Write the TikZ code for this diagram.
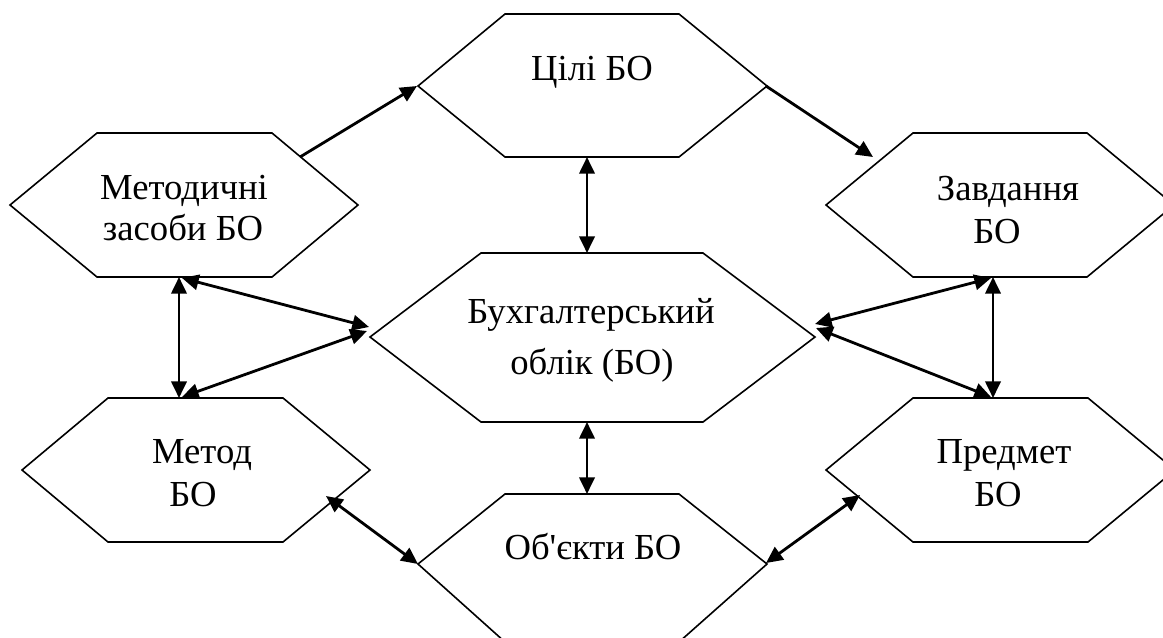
\documentclass[tikz,border=0pt]{standalone}
\usepackage{fontspec}
\newfontfamily\tnr{Liberation Serif}
\usetikzlibrary{arrows.meta}
\begin{document}
\begin{tikzpicture}[x=0.75pt,y=-0.75pt,
  hex/.style={line width=1.2pt, line join=miter},
  conn/.style={line width=2.1pt, >={Triangle[length=12.5pt,width=11.5pt]}},
  lbl/.style={inner sep=0pt, anchor=base, font=\tnr\fontsize{27.5}{33}\selectfont}]
\useasboundingbox (0,0) rectangle (1163,637);
\clip (0,0) rectangle (1163,637);
% hexagons
\draw[hex] (418,86) -- (505,14) -- (679,14) -- (767,86) -- (679,157) -- (505,157) -- cycle;
\draw[hex] (10,205) -- (97,133) -- (272,133) -- (358,205) -- (272,277) -- (97,277) -- cycle;
\draw[hex] (826,205) -- (913,133) -- (1087,133) -- (1174,205) -- (1087,277) -- (913,277) -- cycle;
\draw[hex] (370,337) -- (481,253) -- (703,253) -- (815,337) -- (703,422) -- (481,422) -- cycle;
\draw[hex] (22,470) -- (108,398) -- (283,398) -- (370,470) -- (283,542) -- (108,542) -- cycle;
\draw[hex] (826,470) -- (913,398) -- (1088,398) -- (1175,470) -- (1088,542) -- (913,542) -- cycle;
\draw[hex] (418,564) -- (505,494) -- (679,494) -- (767,564) -- (679,642) -- (505,642) -- cycle;
% labels
\node[lbl] (tsili) at (592,80) {Цілі БО};
\node[lbl] (tmet1) at (184,199) {Методичні};
\node[lbl] (tmet2) at (183,240) {засоби БО};
\node[lbl] (tzav1) at (1008,200) {Завдання};
\node[lbl] (tzav2) at (997,243) {БО};
\node[lbl] (tbo1) at (591,323) {Бухгалтерський};
\node[lbl] (tbo2) at (592,374) {облік (БО)};
\node[lbl] (tmd1) at (202,463) {Метод};
\node[lbl] (tmd2) at (193,506) {БО};
\node[lbl] (tpr1) at (1004,463) {Предмет};
\node[lbl] (tpr2) at (998,506) {БО};
\node[lbl] (tob) at (593,559) {Об'єкти БО};
% connector end points
\coordinate (ms-ur) at (300,157);
\coordinate (ts-l) at (417,86);
\coordinate (ts-r) at (766,86);
\coordinate (zv-ul) at (873,157);
\coordinate (ts-b) at (587,157);
\coordinate (bo-t) at (587,253);
\coordinate (bo-b) at (587,422);
\coordinate (ob-t) at (587,494);
\coordinate (ms-b) at (179,277);
\coordinate (md-t) at (179,398);
\coordinate (ms-b2) at (182,278);
\coordinate (md-t2) at (182,397);
\coordinate (bo-l1) at (369,327);
\coordinate (bo-l2) at (367,331);
\coordinate (zv-b) at (993,277);
\coordinate (pr-t) at (993,398);
\coordinate (zv-b2) at (991,278);
\coordinate (pr-t2) at (991,397);
\coordinate (bo-r1) at (815,324);
\coordinate (bo-r2) at (816,328);
\coordinate (md-r) at (326,496);
\coordinate (ob-l) at (418,564);
\coordinate (ob-r) at (766,563);
\coordinate (pr-l) at (860,495);
% connectors
\draw[conn,->] (ms-ur) -- (ts-l);
\draw[conn,->] (ts-r) -- (zv-ul);
\draw[conn,<->] (ts-b) -- (bo-t);
\draw[conn,<->] (bo-b) -- (ob-t);
\draw[conn,<->] (ms-b) -- (md-t);
\draw[conn,<->] (ms-b2) -- (bo-l1);
\draw[conn,<->] (md-t2) -- (bo-l2);
\draw[conn,<->] (zv-b) -- (pr-t);
\draw[conn,<->] (zv-b2) -- (bo-r1);
\draw[conn,<->] (pr-t2) -- (bo-r2);
\draw[conn,<->] (md-r) -- (ob-l);
\draw[conn,<->] (ob-r) -- (pr-l);
\end{tikzpicture}
\end{document}
